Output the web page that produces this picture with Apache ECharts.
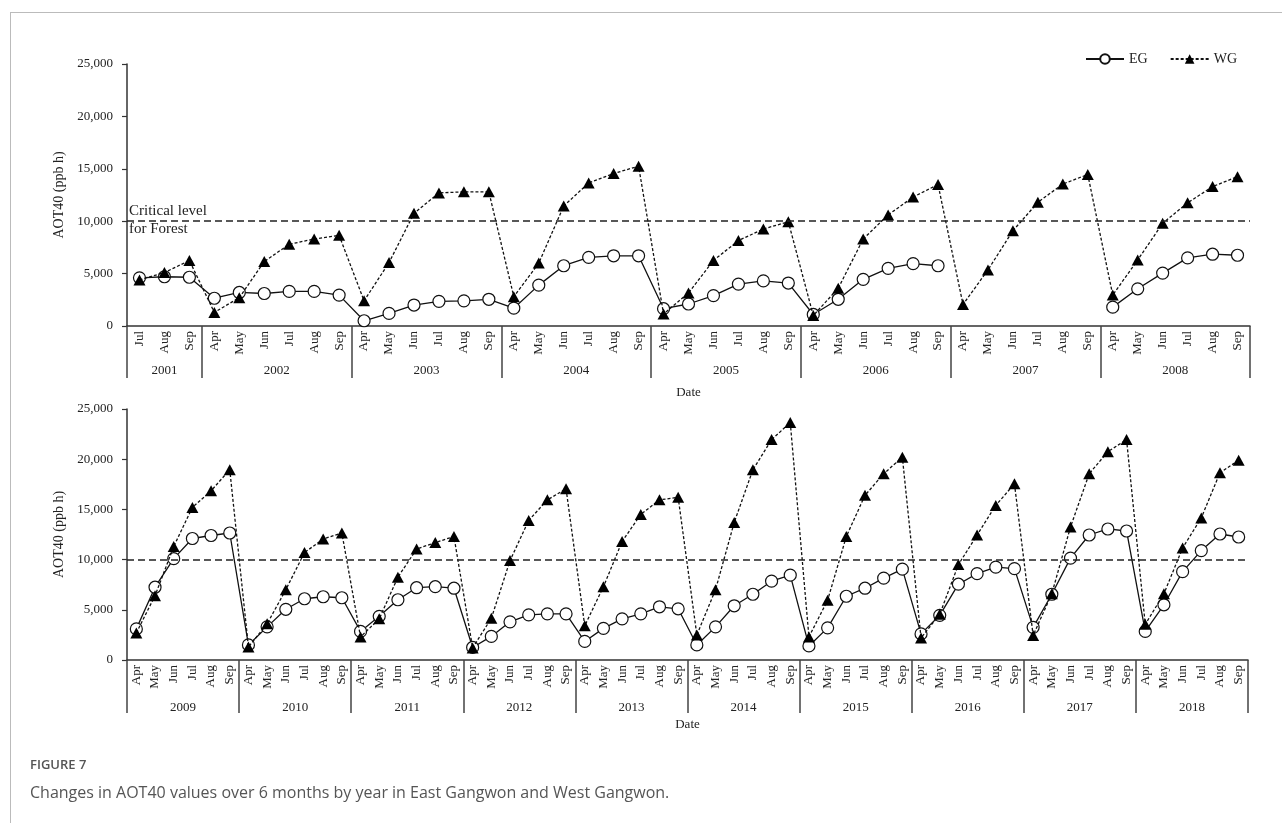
<!DOCTYPE html>
<html><head><meta charset="utf-8">
<script src="https://cdn.jsdelivr.net/npm/echarts@6/dist/echarts.min.js"></script>
<style>
html,body{margin:0;padding:0;background:#fff;width:1282px;height:823px;overflow:hidden}
#frame{position:absolute;left:10px;top:12px;width:1272px;height:811px;border-top:1px solid #bbb;border-left:1px solid #bbb;box-sizing:border-box}
#chart{position:absolute;left:0;top:0;width:1282px;height:823px}
.cap1{position:absolute;left:30px;top:755px;font-family:'Open Sans';font-size:13px;color:#555;font-weight:600}
.cap2{position:absolute;left:30px;top:781px;font-family:'Open Sans';font-size:16px;color:#555}
</style></head>
<body>
<div id="frame"></div>
<div id="chart"></div>
<div class="cap1">FIGURE 7</div>
<div class="cap2">Changes in AOT40 values over 6 months by year in East Gangwon and West Gangwon.</div>
<script>
// ---- data ----
const months6 = ['Apr','May','Jun','Jul','Aug','Sep'];
const months2001 = ['Jul','Aug','Sep'];
const topYears = ['2001','2002','2003','2004','2005','2006','2007','2008'];
const bottomYears = ['2009','2010','2011','2012','2013','2014','2015','2016','2017','2018'];
const yTicks = [0,5000,10000,15000,20000,25000];
const criticalLevel = 10000;

const topEG = [
  4600,4700,4650,
  2650,3200,3100,3300,3300,2950,
  500,1200,2000,2350,2400,2550,
  1700,3900,5750,6550,6700,6700,
  1650,2100,2900,4000,4300,4100,
  1100,2550,4450,5500,5950,5750,
  null,null,null,null,null,null,
  1800,3550,5050,6500,6850,6750
];
const topWG = [
  4400,5100,6250,
  1300,2700,6150,7800,8300,8650,
  2400,6050,10750,12700,12800,12800,
  2800,6000,11450,13650,14550,15250,
  1150,3150,6250,8150,9250,9950,
  1000,3600,8300,10600,12300,13500,
  2050,5350,9100,11800,13550,14450,
  2950,6300,9800,11750,13300,14250
];
const botEG = [
  3100,7250,10100,12100,12400,12650,
  1500,3300,5050,6100,6300,6200,
  2850,4350,6000,7200,7300,7150,
  1250,2350,3800,4500,4600,4600,
  1850,3150,4100,4600,5300,5100,
  1500,3300,5400,6550,7850,8450,
  1400,3200,6350,7150,8150,9050,
  2600,4450,7550,8600,9250,9100,
  3250,6550,10150,12450,13050,12850,
  2850,5500,8800,10900,12550,12250
];
const botWG = [
  2700,6400,11300,15200,16850,18950,
  1300,3600,7000,10700,12050,12650,
  2300,4100,8250,11050,11700,12300,
  1200,4150,9900,13900,15950,17050,
  3400,7300,11800,14500,15950,16200,
  2500,7000,13700,18950,21950,23650,
  2300,5950,12300,16400,18550,20200,
  2200,4550,9500,12450,15400,17550,
  2450,6600,13250,18550,20750,21950,
  3550,6600,11150,14150,18650,19900
];

// ---- build category structures ----
function build(years, monthsFor) {
  const cats = [], starts = [], centers = {};
  years.forEach(y => {
    const ms = monthsFor(y);
    starts.push(cats.length);
    centers[cats.length + ms.length / 2] = y;
    ms.forEach(m => cats.push(y + ' ' + m));
  });
  return {cats, starts, centers, total: cats.length};
}
const topS = build(topYears, y => y === '2001' ? months2001 : months6);
const botS = build(bottomYears, () => months6);

const serif = 'Liberation Serif';
const ink = '#222';

function catAxis(gi, s, tickLen, nameGap) {
  return {
    type: 'category', gridIndex: gi, data: s.cats, boundaryGap: true, position: 'bottom',
    axisLine: {show: true, onZero: false, lineStyle: {color: '#333', width: 1.5}},
    axisTick: {show: true, interval: (i) => s.starts.includes(i), length: tickLen, lineStyle: {color: '#444', width: 1.5}},
    axisLabel: {interval: 0, rotate: 90, margin: 5, fontFamily: serif, fontSize: 13, color: ink,
      formatter: v => v.split(' ')[1]},
    splitLine: {show: false},
    name: 'Date', nameLocation: 'middle', nameGap: nameGap,
    nameTextStyle: {fontFamily: serif, fontSize: 13, color: ink}
  };
}
function yearAxis(gi, s, offset) {
  return {
    type: 'value', gridIndex: gi, position: 'bottom', offset: offset, min: 0, max: s.total, interval: 0.5,
    axisLine: {show: false}, axisTick: {show: false}, splitLine: {show: false},
    axisLabel: {show: true, margin: 8, fontFamily: serif, fontSize: 13, color: ink,
      showMinLabel: true, showMaxLabel: true,
      formatter: v => s.centers[v] || ''}
  };
}
function valAxis(gi) {
  return {
    type: 'value', gridIndex: gi, min: yTicks[0], max: yTicks[yTicks.length - 1], interval: yTicks[1] - yTicks[0],
    axisLine: {show: true, lineStyle: {color: '#333', width: 1.5}},
    axisTick: {show: true, length: 5, lineStyle: {color: '#333', width: 1.2}},
    splitLine: {show: false},
    axisLabel: {fontFamily: serif, fontSize: 13, color: ink, margin: 14,
      formatter: v => v.toLocaleString('en-US')},
    name: 'AOT40 (ppb h)', nameLocation: 'middle', nameGap: 52,
    nameTextStyle: {fontFamily: serif, fontSize: 14, color: ink}
  };
}
function egSeries(xi, yi, data) {
  return {name: 'EG', type: 'line', xAxisIndex: xi, yAxisIndex: yi, data: data,
    symbol: 'circle', symbolSize: 12, connectNulls: false, z: 2,
    lineStyle: {color: '#111', width: 1.3},
    itemStyle: {color: '#fff', borderColor: '#111', borderWidth: 1.2},
    emphasis: {disabled: true}, animation: false};
}
function wgSeries(xi, yi, data, withText) {
  const mlData = [{yAxis: criticalLevel,
    label: {show: withText, position: 'insideStartTop', formatter: 'Critical level', distance: [2, 3],
      fontFamily: serif, fontSize: 15, color: ink}}];
  if (withText) mlData.push({yAxis: criticalLevel, lineStyle: {color: 'rgba(0,0,0,0)', width: 0.1},
    label: {show: true, position: 'insideStartBottom', formatter: 'for Forest', distance: [2, 0],
      fontFamily: serif, fontSize: 15, color: ink, opacity: 1}});
  return {name: 'WG', type: 'line', xAxisIndex: xi, yAxisIndex: yi, data: data,
    symbol: 'triangle', symbolSize: [12, 11], z: 3,
    lineStyle: {color: '#111', width: 1.3, type: [3, 2]},
    itemStyle: {color: '#000', borderWidth: 0},
    emphasis: {disabled: true}, animation: false,
    markLine: {silent: true, symbol: ['none', 'none'], animation: false,
      lineStyle: {color: '#222', type: [7, 4], width: 1.5},
      label: {show: false},
      emphasis: {disabled: true},
      data: mlData}};
}

const chart = echarts.init(document.getElementById('chart'), null, {renderer: 'canvas'});
chart.setOption({
  backgroundColor: 'transparent',
  animation: false,
  legend: {data: ['EG', 'WG'], left: 1080, top: 47, itemWidth: 38, itemHeight: 12, itemGap: 22,
    textStyle: {fontFamily: serif, fontSize: 14, color: ink}},
  grid: [
    {left: 127, top: 64, width: 1123, height: 262, containLabel: false},
    {left: 127, top: 409, width: 1121, height: 251, containLabel: false}
  ],
  xAxis: [
    catAxis(0, topS, 52, 60), yearAxis(0, topS, 30),
    catAxis(1, botS, 53, 58), yearAxis(1, botS, 33)
  ],
  yAxis: [valAxis(0), valAxis(1)],
  series: [
    egSeries(0, 0, topEG), wgSeries(0, 0, topWG, true),
    egSeries(2, 1, botEG), wgSeries(2, 1, botWG, false)
  ]
});
</script>
</body></html>
